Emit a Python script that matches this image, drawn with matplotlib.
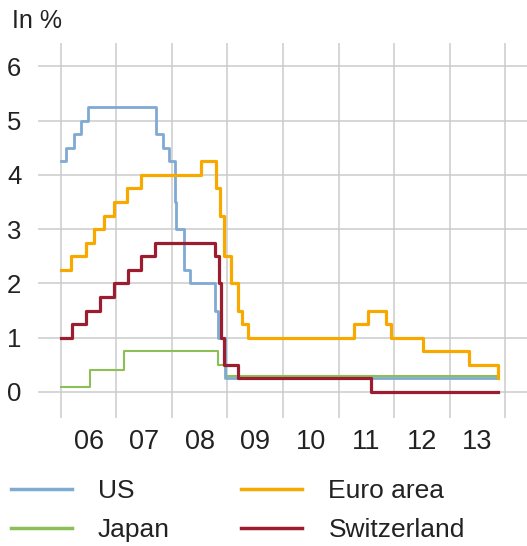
import pandas as pd
import matplotlib
matplotlib.use("Agg")
import matplotlib.pyplot as plt
from matplotlib.ticker import FixedLocator, NullFormatter

plt.rcParams["font.family"] = ["Liberation Sans", "DejaVu Sans"]

# Policy rates, in %, as step series (date of change, new level)
end_date = "2013-11-13"

us_dates = ["2006-01-01", "2006-01-31", "2006-03-28", "2006-05-10", "2006-06-29",
            "2007-09-18", "2007-10-31", "2007-12-11", "2008-01-22", "2008-01-30",
            "2008-03-18", "2008-04-30", "2008-10-08", "2008-10-29", "2008-12-16", end_date]
us_rates = [4.25, 4.5, 4.75, 5.0, 5.25, 4.75, 4.5, 4.25, 3.5, 3.0,
            2.25, 2.0, 1.5, 1.0, 0.25, 0.25]

euro_dates = ["2006-01-01", "2006-03-08", "2006-06-15", "2006-08-09", "2006-10-11",
              "2006-12-13", "2007-03-14", "2007-06-13", "2008-07-09", "2008-10-15",
              "2008-11-12", "2008-12-10", "2009-01-21", "2009-03-11", "2009-04-08",
              "2009-05-13", "2011-04-13", "2011-07-13", "2011-11-09", "2011-12-14",
              "2012-07-11", "2013-05-08", end_date]
euro_rates = [2.25, 2.5, 2.75, 3.0, 3.25, 3.5, 3.75, 4.0, 4.25, 3.75,
              3.25, 2.5, 2.0, 1.5, 1.25, 1.0, 1.25, 1.5, 1.25, 1.0,
              0.75, 0.5, 0.25]

japan_dates = ["2006-01-01", "2006-07-14", "2007-02-21", "2008-10-31", "2008-12-19", end_date]
japan_rates = [0.1, 0.4, 0.75, 0.5, 0.3, 0.3]

swiss_dates = ["2006-01-01", "2006-03-16", "2006-06-15", "2006-09-14", "2006-12-14",
               "2007-03-15", "2007-06-14", "2007-09-13", "2008-10-08", "2008-11-06",
               "2008-11-20", "2008-12-11", "2009-03-12", "2011-08-03", end_date]
swiss_rates = [1.0, 1.25, 1.5, 1.75, 2.0, 2.25, 2.5, 2.75, 2.5, 2.0,
               1.0, 0.5, 0.25, 0.0, 0.0]

year_labels = ["06", "07", "08", "09", "10", "11", "12", "13"]
y_ticks = [0, 1, 2, 3, 4, 5, 6]


def to_year(dates):
    d = pd.to_datetime(pd.Series(dates))
    days = 365 + d.dt.is_leap_year.astype(int)
    return (d.dt.year + (d.dt.dayofyear - 1) / days).values


fig = plt.figure(figsize=(5.27, 5.46), dpi=100)
ax = fig.add_axes([38 / 527, 1 - 418 / 546, 1 - 38 / 527, (418 - 42.7) / 546])

ax.plot(to_year(japan_dates), japan_rates, drawstyle="steps-post", color="#8cc056", lw=1.5, label="Japan")
ax.plot(to_year(us_dates), us_rates, drawstyle="steps-post", color="#7eaad3", lw=2.0, label="US")
ax.plot(to_year(euro_dates), euro_rates, drawstyle="steps-post", color="#f8a900", lw=2.3, label="Euro area")
ax.plot(to_year(swiss_dates), swiss_rates, drawstyle="steps-post", color="#9b1d2f", lw=2.3, label="Switzerland")

ax.set_xlim(2005.586, 2014.396)
ax.set_ylim(-0.479, 6.433)

# gridlines at year boundaries, labels in the middle of each year
first = 2006
ax.xaxis.set_major_locator(FixedLocator(range(first, first + len(year_labels) + 1)))
ax.xaxis.set_major_formatter(NullFormatter())
ax.xaxis.set_minor_locator(FixedLocator([first + i + 0.5 for i in range(len(year_labels))]))
ax.set_xticklabels(year_labels, minor=True)
ax.set_yticks(y_ticks)
ax.tick_params(axis="both", which="both", length=0)
ax.tick_params(axis="x", which="minor", pad=8, labelsize=19.5, colors="#222222")
ax.tick_params(axis="y", pad=12, labelsize=18.5, colors="#222222")
ax.grid(True, which="major", color="#cbcbcb", lw=1.1)
ax.set_axisbelow(True)
for s in ax.spines.values():
    s.set_visible(False)

fig.text(12 / 527, 1 - 21 / 546, "In %", fontsize=18, color="#222222", va="center", ha="left")

h, l = ax.get_legend_handles_labels()
order = [1, 0, 2, 3]  # US, Japan | Euro area, Switzerland
leg = fig.legend([h[i] for i in order], [l[i] for i in order], ncol=2, frameon=False,
                 loc="upper left", bbox_to_anchor=(11 / 527, 1 - 479 / 546),
                 fontsize=19, handlelength=2.3, handletextpad=1.0,
                 columnspacing=2.7, labelspacing=0.57, borderpad=0, borderaxespad=0)
for line in leg.get_lines():
    line.set_linewidth(2.5)
for t in leg.get_texts():
    t.set_color("#222222")

fig.savefig("out.png", dpi=100)
